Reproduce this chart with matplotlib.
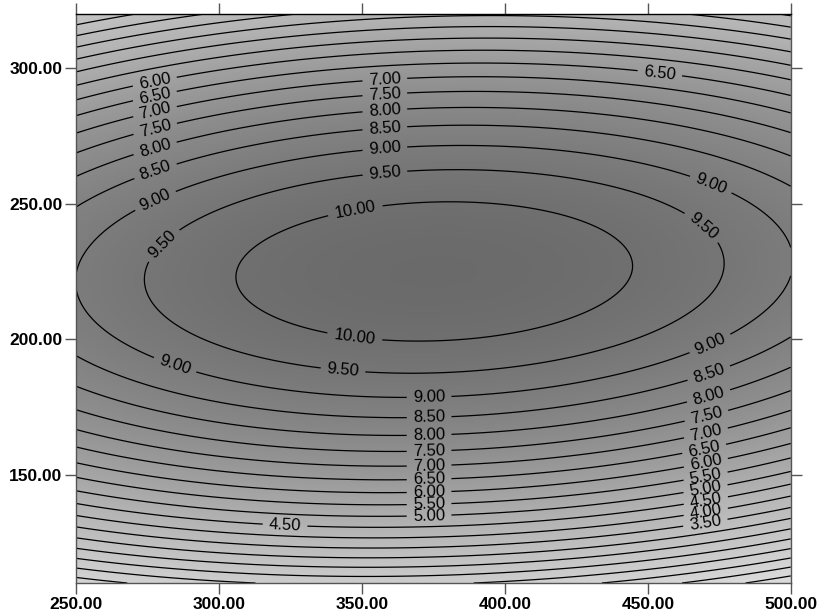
import matplotlib
matplotlib.use('Agg')
import matplotlib.pyplot as plt
import numpy as np
from matplotlib.colors import LinearSegmentedColormap

# response surface (quadratic around the peak)
peak_value = 10.44
peak_x = 375.3
peak_y = 225.0
curv_x = 9.2e-5      # drop per unit^2 along x
curv_y = 6.7e-4      # drop per unit^2 along y
cross_xy = 3.9e-5    # tilt term

x_range = [250, 500]
y_range = [110, 320]
levels = np.arange(0.0, 10.5, 0.5)

x_ticks = [250, 300, 350, 400, 450, 500]
y_ticks = [150, 200, 250, 300]

# where the contour labels sit in the reference
label_spots = [
    (277.6, 294.8), (277.6, 289.6), (277.6, 284.1), (277.6, 278.1), (277.6, 270.7),
    (277.6, 262.6), (277.6, 251.5), (280.4, 234.8),
    (358, 296), (358, 290.4), (358, 284.8), (358, 278.1), (358, 270.7), (358, 261.9),
    (347.6, 248.1), (454.2, 298.1), (472, 257), (469.5, 242),
    (347.6, 201.8), (343.4, 188.9), (284.6, 190.4), (323.1, 131.1),
    (373.5, 178.3), (373.5, 171.1), (373.5, 164.2), (373.5, 158.2), (373.5, 153.3),
    (373.5, 148.1), (373.5, 143.1), (373.5, 138.9), (373.5, 134.2),
    (471.7, 198.5), (471.0, 188.5), (471.0, 180), (470.3, 172.6), (470.3, 165.5),
    (469.6, 160), (470.3, 154.4), (470.3, 148.9), (470.3, 144.1), (470.3, 140.4),
    (470.3, 136), (470.3, 131.1),
]

xs = np.linspace(x_range[0], x_range[1], 400)
ys = np.linspace(y_range[0], y_range[1], 400)
X, Y = np.meshgrid(xs, ys)
dx = X - peak_x
dy = Y - peak_y
Z = peak_value - curv_x * dx**2 - curv_y * dy**2 + cross_xy * dx * dy

fig = plt.figure(figsize=(8.22, 6.12), dpi=100)
ax = fig.add_axes([0.0925, 0.0474, 0.8695, 0.9296])

# light grey at the low end, dark grey at the peak
cmap = LinearSegmentedColormap.from_list(
    'grey_fill', [(0.0, '#dadada'), (0.42, '#b4b4b4'), (1.0, '#6a6a6a')])
ax.imshow(Z, extent=[x_range[0], x_range[1], y_range[0], y_range[1]],
          origin='lower', aspect='auto', cmap=cmap, vmin=0, vmax=10.5,
          interpolation='bilinear')

cs = ax.contour(X, Y, Z, levels=levels, colors='black', linewidths=0.9)
ax.clabel(cs, fmt='%.2f', fontsize=12, manual=label_spots, inline=True,
          inline_spacing=4)
for t in cs.labelTexts:
    t.set_family('Liberation Sans')

ax.set_xlim(x_range)
ax.set_ylim(y_range)
ax.set_xticks(x_ticks)
ax.set_yticks(y_ticks)
ax.set_xticklabels(['%.2f' % v for v in x_ticks])
ax.set_yticklabels(['%.2f' % v for v in y_ticks])
ax.tick_params(direction='out', length=8, width=1, color='#555555',
               top=True, right=True, labelsize=12.5, pad=2)
for lab in ax.get_xticklabels() + ax.get_yticklabels():
    lab.set_family('Liberation Sans')
    lab.set_fontweight('bold')
for s in ax.spines.values():
    s.set_color('#555555')
    s.set_linewidth(1)
ax.spines['top'].set_color('black')

fig.savefig('out.png', dpi=100)
